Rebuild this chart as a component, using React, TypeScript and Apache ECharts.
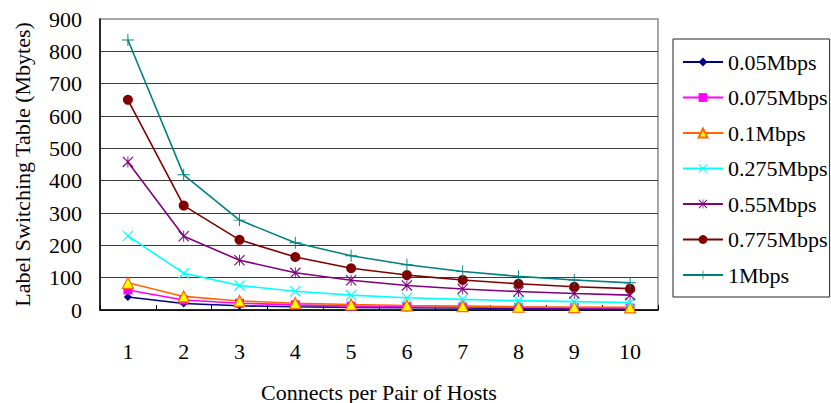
import React, { useEffect, useRef } from "react";
import * as echarts from "echarts";

// Connects per pair of hosts
const categories = ["1", "2", "3", "4", "5", "6", "7", "8", "9", "10"];

// Label switching table size (Mbytes) per traffic rate
const rate005 = [40, 20, 13, 10, 8, 7, 6, 5, 4.5, 4];
const rate0075 = [62, 31, 21, 16, 12, 10, 9, 8, 7, 6];
const rate01 = [84, 42, 28, 21, 17, 14, 12, 10, 9, 8];
const rate0275 = [229, 114, 76, 58, 46, 38, 33, 29, 26, 23];
const rate055 = [458, 228, 154, 115, 92, 76, 65, 57, 51, 46];
const rate0775 = [650, 323, 217, 164, 129, 108, 93, 81, 72, 66];
const rate1 = [835, 418, 278, 208, 168, 140, 119, 104, 93, 84];

const seriesNames = [
  "0.05Mbps",
  "0.075Mbps",
  "0.1Mbps",
  "0.275Mbps",
  "0.55Mbps",
  "0.775Mbps",
  "1Mbps",
];

const yTicks = { min: 0, max: 900, interval: 100 };

// Thin marker glyphs drawn as filled outlines
const CROSS_X =
  "path://M0,1.5L1.5,0L20,18.5L18.5,20ZM18.5,0L20,1.5L1.5,20L0,18.5Z";
const STAR =
  "path://M0,1.5L1.5,0L20,18.5L18.5,20ZM18.5,0L20,1.5L1.5,20L0,18.5ZM9.2,0L10.8,0L10.8,20L9.2,20Z";
const PLUS = "path://M9.2,0L10.8,0L10.8,20L9.2,20ZM0,9.2L20,9.2L20,10.8L0,10.8Z";

const FONT = "Liberation Serif";

export default function App() {
  const ref = useRef<HTMLDivElement>(null);

  useEffect(() => {
    if (!ref.current) return;
    const chart = echarts.init(ref.current, undefined, { renderer: "svg" });

    const mk = (
      name: string,
      data: number[],
      line: string,
      symbol: string,
      size: number,
      fill: string,
      border?: string
    ) => ({
      name,
      type: "line",
      data,
      symbol,
      symbolSize: size,
      showSymbol: true,
      lineStyle: { color: line, width: 1.6 },
      itemStyle: border
        ? { color: fill, borderColor: border, borderWidth: 1.2 }
        : { color: fill, borderWidth: 0 },
      emphasis: { disabled: true },
    });

    chart.setOption({
      animation: false,
      backgroundColor: "#ffffff",
      textStyle: { fontFamily: FONT },
      grid: {
        left: 100,
        top: 19,
        right: 173,
        bottom: 93,
        containLabel: false,
        outerBoundsMode: "none",
        show: true,
        borderColor: "#8a8a8a",
        borderWidth: 1.5,
        backgroundColor: "transparent",
      },
      legend: {
        orient: "vertical",
        left: 673,
        top: 39,
        width: 157,
        padding: [12, 2, 11, 9],
        itemGap: 13.5,
        itemWidth: 40,
        itemHeight: 11,
        borderColor: "#222",
        borderWidth: 1,
        data: seriesNames,
        textStyle: { fontSize: 22, color: "#000", fontFamily: FONT },
      },
      xAxis: {
        type: "category",
        data: categories,
        boundaryGap: true,
        name: "Connects per Pair of Hosts",
        nameLocation: "middle",
        nameGap: 71,
        nameTextStyle: { fontSize: 22, color: "#000", fontFamily: FONT },
        axisLine: { lineStyle: { color: "#000", width: 1.5 } },
        axisTick: { show: true, inside: true, length: 5, lineStyle: { color: "#000" } },
        axisLabel: { fontSize: 22, color: "#000", margin: 30, fontFamily: FONT },
        splitLine: { show: false },
      },
      yAxis: {
        type: "value",
        min: yTicks.min,
        max: yTicks.max,
        interval: yTicks.interval,
        name: "Label Switching Table (Mbytes)",
        nameLocation: "middle",
        nameGap: 67,
        nameTextStyle: { fontSize: 22, color: "#000", fontFamily: FONT },
        axisLine: { show: true, lineStyle: { color: "#000", width: 1.5 } },
        axisTick: { show: false },
        axisLabel: {
          fontSize: 22,
          color: "#000",
          margin: 18,
          fontFamily: FONT,
          padding: [6, 0, 0, 0],
        },
        splitLine: {
          show: true,
          showMaxLine: false,
          lineStyle: { color: "#3c3c3c", width: 1 },
        },
      },
      series: [
        mk(seriesNames[0], rate005, "#000080", "diamond", 8, "#000080"),
        mk(seriesNames[1], rate0075, "#ff00ff", "rect", 9, "#ff00ff"),
        mk(seriesNames[2], rate01, "#ff6600", "triangle", 11, "#ffff00", "#ff6600"),
        mk(seriesNames[3], rate0275, "#00ffff", CROSS_X, 11, "#00ffff"),
        mk(seriesNames[4], rate055, "#800080", STAR, 11, "#800080"),
        mk(seriesNames[5], rate0775, "#800000", "circle", 10, "#800000"),
        mk(seriesNames[6], rate1, "#008080", PLUS, 12, "#008080"),
      ],
    });

    return () => chart.dispose();
  }, []);

  return (
    <div
      ref={ref}
      style={{ position: "fixed", left: 0, top: 0, width: 831, height: 403 }}
    />
  );
}
